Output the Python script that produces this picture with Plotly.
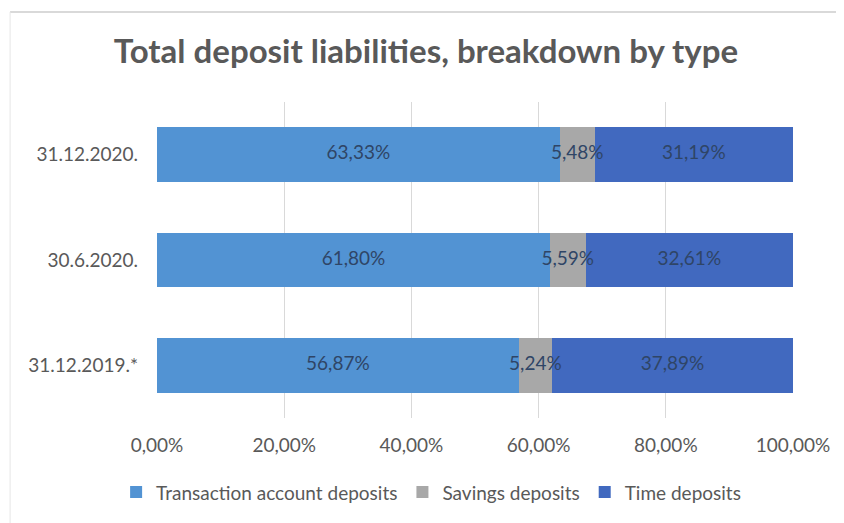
import plotly.graph_objects as go

categories = ["31.12.2019.*", "30.6.2020.", "31.12.2020."]
transaction = [56.87, 61.80, 63.33]
savings = [5.24, 5.59, 5.48]
time_dep = [37.89, 32.61, 31.19]
series_names = ["Transaction account deposits", "Savings deposits", "Time deposits"]
tick_values = [0, 20, 40, 60, 80, 100]

colors = ["#5293d3", "#a8a8a8", "#4169bf"]
FONT = "Lato, Open Sans, sans-serif"

def fmt(v):
    return f"{v:.2f}%".replace(".", ",")

fig = go.Figure()
series = [transaction, savings, time_dep]
for name, vals, col in zip(series_names, series, colors):
    fig.add_trace(go.Bar(
        y=categories, x=vals, name=name, orientation="h",
        marker=dict(color=col, line=dict(width=0)),
        textposition="none",
    ))

# data labels drawn on top, centred on each stacked segment
base = [0.0] * len(categories)
for vals in series:
    mids = [b + v / 2 for b, v in zip(base, vals)]
    fig.add_trace(go.Scatter(
        y=categories, x=mids, mode="text", text=[fmt(v) for v in vals],
        textposition="middle center", showlegend=False, hoverinfo="skip",
        textfont=dict(color="#2f4566", size=19, family=FONT),
        cliponaxis=False,
    ))
    base = [b + v for b, v in zip(base, vals)]

fig.update_layout(
    barmode="stack",
    bargap=0.48,
    width=836, height=515,
    margin=dict(l=149, r=51, t=94, b=102),
    paper_bgcolor="white", plot_bgcolor="white",
    title=dict(text="<b>Total deposit liabilities, breakdown by type</b>",
               x=0.5, xanchor="center", y=0.915, yanchor="middle",
               font=dict(size=33, color="#595959", family=FONT)),
    xaxis=dict(range=[0, 100], tickvals=tick_values,
               ticktext=[fmt(v) for v in tick_values],
               showgrid=True, gridcolor="#d9d9d9", gridwidth=1, zeroline=False,
               showline=False, ticks="", ticklabelstandoff=14,
               tickfont=dict(size=19, color="#595959", family=FONT)),
    yaxis=dict(categoryorder="array", categoryarray=categories,
               showgrid=False, showline=False, ticks="", ticklabelstandoff=18,
               tickfont=dict(size=19, color="#595959", family=FONT)),
    legend=dict(orientation="h", x=0.431, xanchor="center", y=-0.235, yanchor="middle",
                font=dict(size=19, color="#595959", family=FONT),
                itemwidth=30, traceorder="normal"),
    showlegend=True,
)
fig.add_shape(type="line", xref="paper", yref="paper",
              x0=-0.231, x1=1.2, y0=1.285, y1=1.285,
              line=dict(color="#d9d9d9", width=2))
fig.add_shape(type="line", xref="paper", yref="paper",
              x0=-0.231, x1=-0.231, y0=1.285, y1=-0.4,
              line=dict(color="#e6e6e6", width=1))

fig.write_html("out.html")
